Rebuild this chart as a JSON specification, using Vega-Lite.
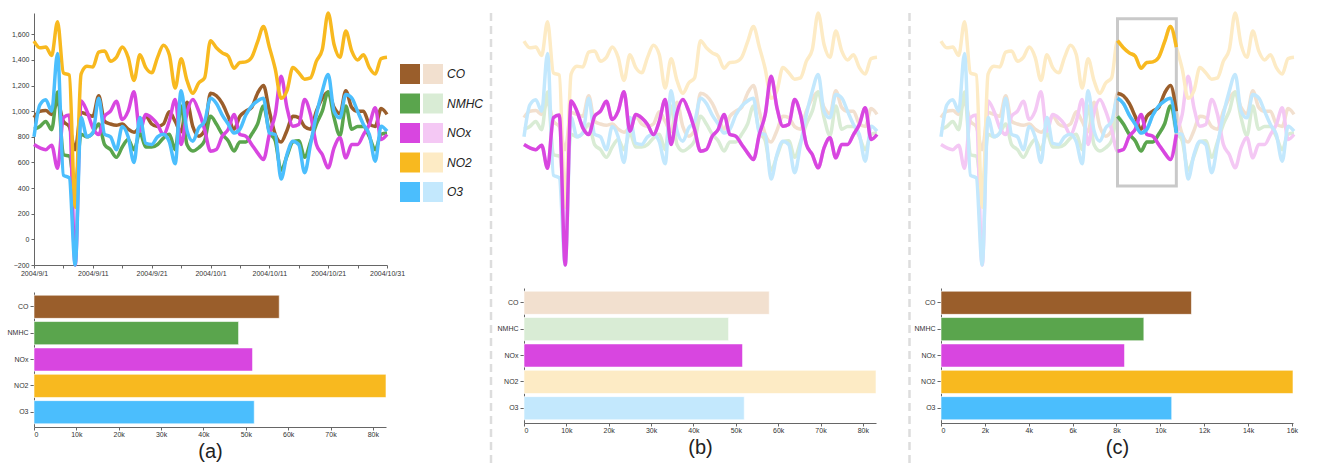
{
  "$schema": "https://vega.github.io/schema/vega-lite/v6.json",
  "padding": {"left": 7, "top": 6, "right": 0, "bottom": 0},
  "spacing": 0,
  "datasets": {
    "ts": [
      {"date":"2004/09/01","CO":950,"NMHC":860,"NOx":740,"NO2":1547,"O3":800},
      {"date":"2004/09/02","CO":1000,"NMHC":880,"NOx":714,"NO2":1495,"O3":1050},
      {"date":"2004/09/03","CO":1005,"NMHC":920,"NOx":700,"NO2":1500,"O3":1090},
      {"date":"2004/09/04","CO":975,"NMHC":855,"NOx":735,"NO2":1435,"O3":1000},
      {"date":"2004/09/05","CO":1070,"NMHC":1150,"NOx":555,"NO2":1697,"O3":1450},
      {"date":"2004/09/06","CO":920,"NMHC":660,"NOx":950,"NO2":1299,"O3":500},
      {"date":"2004/09/07","CO":880,"NMHC":650,"NOx":970,"NO2":1281,"O3":480},
      {"date":"2004/09/08","CO":700,"NMHC":400,"NOx":-200,"NO2":250,"O3":-200},
      {"date":"2004/09/09","CO":990,"NMHC":820,"NOx":1080,"NO2":1290,"O3":950},
      {"date":"2004/09/10","CO":975,"NMHC":800,"NOx":1000,"NO2":1350,"O3":800},
      {"date":"2004/09/11","CO":960,"NMHC":830,"NOx":870,"NO2":1345,"O3":830},
      {"date":"2004/09/12","CO":1120,"NMHC":900,"NOx":818,"NO2":1460,"O3":1100},
      {"date":"2004/09/13","CO":920,"NMHC":740,"NOx":961,"NO2":1470,"O3":820},
      {"date":"2004/09/14","CO":900,"NMHC":700,"NOx":1000,"NO2":1390,"O3":800},
      {"date":"2004/09/15","CO":890,"NMHC":640,"NOx":1078,"NO2":1420,"O3":700},
      {"date":"2004/09/16","CO":900,"NMHC":720,"NOx":935,"NO2":1500,"O3":880},
      {"date":"2004/09/17","CO":860,"NMHC":780,"NOx":1000,"NO2":1420,"O3":800},
      {"date":"2004/09/18","CO":835,"NMHC":700,"NOx":1151,"NO2":1240,"O3":600},
      {"date":"2004/09/19","CO":880,"NMHC":830,"NOx":844,"NO2":1440,"O3":950},
      {"date":"2004/09/20","CO":960,"NMHC":720,"NOx":974,"NO2":1340,"O3":750},
      {"date":"2004/09/21","CO":900,"NMHC":720,"NOx":948,"NO2":1300,"O3":740},
      {"date":"2004/09/22","CO":880,"NMHC":740,"NOx":896,"NO2":1420,"O3":800},
      {"date":"2004/09/23","CO":900,"NMHC":790,"NOx":818,"NO2":1515,"O3":820},
      {"date":"2004/09/24","CO":995,"NMHC":820,"NOx":922,"NO2":1440,"O3":760},
      {"date":"2004/09/25","CO":920,"NMHC":700,"NOx":1091,"NO2":1180,"O3":590},
      {"date":"2004/09/26","CO":840,"NMHC":1040,"NOx":740,"NO2":1410,"O3":1160},
      {"date":"2004/09/27","CO":1070,"NMHC":740,"NOx":987,"NO2":1240,"O3":850},
      {"date":"2004/09/28","CO":880,"NMHC":690,"NOx":1091,"NO2":1140,"O3":766},
      {"date":"2004/09/29","CO":805,"NMHC":715,"NOx":1000,"NO2":1220,"O3":870},
      {"date":"2004/09/30","CO":850,"NMHC":770,"NOx":857,"NO2":1260,"O3":920},
      {"date":"2004/10/01","CO":1140,"NMHC":960,"NOx":688,"NO2":1550,"O3":1100},
      {"date":"2004/10/02","CO":1120,"NMHC":900,"NOx":701,"NO2":1495,"O3":1060},
      {"date":"2004/10/03","CO":1060,"NMHC":820,"NOx":805,"NO2":1455,"O3":970},
      {"date":"2004/10/04","CO":960,"NMHC":770,"NOx":857,"NO2":1430,"O3":900},
      {"date":"2004/10/05","CO":860,"NMHC":690,"NOx":974,"NO2":1335,"O3":830},
      {"date":"2004/10/06","CO":960,"NMHC":760,"NOx":818,"NO2":1380,"O3":860},
      {"date":"2004/10/07","CO":1000,"NMHC":760,"NOx":805,"NO2":1385,"O3":970},
      {"date":"2004/10/08","CO":1030,"NMHC":820,"NOx":740,"NO2":1420,"O3":1040},
      {"date":"2004/10/09","CO":1140,"NMHC":900,"NOx":675,"NO2":1540,"O3":1080},
      {"date":"2004/10/10","CO":1200,"NMHC":1040,"NOx":623,"NO2":1660,"O3":1100},
      {"date":"2004/10/11","CO":1000,"NMHC":840,"NOx":818,"NO2":1500,"O3":830},
      {"date":"2004/10/12","CO":820,"NMHC":770,"NOx":974,"NO2":1330,"O3":818},
      {"date":"2004/10/13","CO":760,"NMHC":540,"NOx":1273,"NO2":1100,"O3":470},
      {"date":"2004/10/14","CO":850,"NMHC":650,"NOx":1026,"NO2":1160,"O3":662},
      {"date":"2004/10/15","CO":960,"NMHC":760,"NOx":883,"NO2":1340,"O3":766},
      {"date":"2004/10/16","CO":950,"NMHC":770,"NOx":896,"NO2":1300,"O3":740},
      {"date":"2004/10/17","CO":880,"NMHC":640,"NOx":1091,"NO2":1250,"O3":520},
      {"date":"2004/10/18","CO":860,"NMHC":760,"NOx":974,"NO2":1260,"O3":740},
      {"date":"2004/10/19","CO":1000,"NMHC":900,"NOx":740,"NO2":1390,"O3":974},
      {"date":"2004/10/20","CO":1100,"NMHC":1000,"NOx":662,"NO2":1480,"O3":1156},
      {"date":"2004/10/21","CO":1150,"NMHC":1150,"NOx":558,"NO2":1766,"O3":1286},
      {"date":"2004/10/22","CO":1030,"NMHC":950,"NOx":714,"NO2":1520,"O3":1000},
      {"date":"2004/10/23","CO":980,"NMHC":810,"NOx":792,"NO2":1420,"O3":948},
      {"date":"2004/10/24","CO":1160,"NMHC":1040,"NOx":636,"NO2":1625,"O3":1130},
      {"date":"2004/10/25","CO":1030,"NMHC":860,"NOx":740,"NO2":1470,"O3":1104},
      {"date":"2004/10/26","CO":1000,"NMHC":880,"NOx":740,"NO2":1400,"O3":1000},
      {"date":"2004/10/27","CO":1000,"NMHC":880,"NOx":818,"NO2":1440,"O3":896},
      {"date":"2004/10/28","CO":900,"NMHC":800,"NOx":896,"NO2":1340,"O3":818},
      {"date":"2004/10/29","CO":880,"NMHC":700,"NOx":1026,"NO2":1290,"O3":610},
      {"date":"2004/10/30","CO":1020,"NMHC":820,"NOx":779,"NO2":1410,"O3":883},
      {"date":"2004/10/31","CO":975,"NMHC":830,"NOx":818,"NO2":1420,"O3":844}
    ],
    "barsAll": [
      {"series":"CO","total":57900},
      {"series":"NMHC","total":48300},
      {"series":"NOx","total":51600},
      {"series":"NO2","total":83100},
      {"series":"O3","total":52000}
    ],
    "barsWin": [
      {"series":"CO","total":11420},
      {"series":"NMHC","total":9250},
      {"series":"NOx","total":8370},
      {"series":"NO2","total":16050},
      {"series":"O3","total":10520}
    ]
  },
  "resolve": {"scale": {"color": "independent", "fill": "independent", "stroke": "independent"}, "legend": {"color": "independent", "fill": "independent", "stroke": "independent"}},
  "hconcat": [
    {
      "spacing": 16,
      "resolve": {"scale": {"color": "independent", "fill": "independent", "stroke": "independent"}, "legend": {"color": "independent", "fill": "independent", "stroke": "independent"}},
      "vconcat": [
        {
          "width": 353,
          "height": 252,
          "layer": [
            {
              "data": {"name": "ts"},
              "transform": [{"fold": ["CO", "NMHC", "NOx", "NO2", "O3"], "as": ["series", "value"]}],
              "mark": {"type": "line", "interpolate": "monotone", "strokeWidth": 3.5},
              "encoding": {
                "x": {"field": "date", "type": "temporal", "scale": {"domain": [{"year": 2004, "month": 9, "date": 1}, {"year": 2004, "month": 10, "date": 31}]},
                  "axis": {"title": null, "values": [{"year":2004,"month":9,"date":1},{"year":2004,"month":9,"date":6},{"year":2004,"month":9,"date":11},{"year":2004,"month":9,"date":16},{"year":2004,"month":9,"date":21},{"year":2004,"month":9,"date":26},{"year":2004,"month":10,"date":1},{"year":2004,"month":10,"date":6},{"year":2004,"month":10,"date":11},{"year":2004,"month":10,"date":16},{"year":2004,"month":10,"date":21},{"year":2004,"month":10,"date":26},{"year":2004,"month":10,"date":31}], "format": "%Y/%-m/%-d", "labelExpr": "date(datum.value) % 10 == 1 ? datum.label : ''", "tickSize": 3, "labelPadding": 1, "labelFlush": false, "labelOverlap": false}},
                "y": {"field": "value", "type": "quantitative", "scale": {"domain": [-200, 1766], "nice": false, "zero": false},
                  "axis": {"title": null, "values": [-200, 0, 200, 400, 600, 800, 1000, 1200, 1400, 1600], "format": ",d", "tickSize": 3, "labelPadding": 2}},
                "stroke": {"field": "series", "type": "nominal", "scale": {"domain": ["CO", "NMHC", "NOx", "NO2", "O3"], "range": ["#9a5e2b", "#5aa54d", "#d846e0", "#f8b91f", "#4bbefd"]}, "legend": null}
              }
            },
            {
              "data": {"values": [{"id": "CO"}, {"id": "NMHC"}, {"id": "NOx"}, {"id": "NO2"}, {"id": "O3"}]},
              "mark": {"type": "point", "filled": true, "opacity": 0, "shape": "square"},
              "encoding": {
                "color": {"field": "id", "type": "nominal", "sort": null, "scale": {"range": ["#9a5e2b", "#5aa54d", "#d846e0", "#f8b91f", "#4bbefd"]},
                  "legend": {"orient": "none", "legendX": 366, "legendY": 51, "title": null, "symbolType": "square", "symbolSize": 400, "symbolOpacity": 1, "symbolStrokeWidth": 0, "labelExpr": "''", "labelFontSize": 12, "rowPadding": 9.5, "padding": 0, "offset": 0}}
              }
            },
            {
              "data": {"values": [{"series": "CO"}, {"series": "NMHC"}, {"series": "NOx"}, {"series": "NO2"}, {"series": "O3"}]},
              "mark": {"type": "point", "filled": true, "opacity": 0, "shape": "square"},
              "encoding": {
                "fill": {"field": "series", "type": "nominal", "sort": null, "scale": {"range": ["#f2e0cf", "#d9ecd5", "#f4c8f4", "#fdebc5", "#c3e8fd"]},
                  "legend": {"orient": "none", "legendX": 389, "legendY": 51, "title": null, "symbolType": "square", "symbolSize": 400, "symbolOpacity": 1, "symbolStrokeWidth": 0, "labelFontSize": 12, "labelFontStyle": "italic", "labelFont": "Liberation Sans", "labelColor": "#222222", "labelOffset": 4, "rowPadding": 9.5, "padding": 0, "offset": 0}}
              }
            }
          ]
        },
        {
          "width": 352,
          "height": 135,
          "data": {"name": "barsAll"},
          "mark": {"type": "bar", "stroke": "#ffffff", "strokeWidth": 1, "strokeOpacity": 0.6},
          "encoding": {
            "y": {"field": "series", "type": "nominal", "sort": ["CO", "NMHC", "NOx", "NO2", "O3"], "scale": {"paddingInner": 0.12, "paddingOuter": 0.12}, "axis": {"title": null, "tickSize": 4, "labelPadding": 2}},
            "x": {"field": "total", "type": "quantitative", "scale": {"nice": false}, "axis": {"title": "(a)", "format": "~s", "labelExpr": "datum.value == 0 ? '0' : datum.label", "tickSize": 3, "labelPadding": 0, "titleFontSize": 20, "titleFontWeight": "normal", "titlePadding": 4, "titleColor": "#222222"}},
            "color": {"field": "series", "type": "nominal", "scale": {"domain": ["CO", "NMHC", "NOx", "NO2", "O3"], "range": ["#9a5e2b", "#5aa54d", "#d846e0", "#f8b91f", "#4bbefd"]}, "legend": null}
          }
        }
      ]
    },
    {
      "width": 14,
      "height": 457,
      "data": {"values": [{}]},
      "mark": {"type": "rule", "strokeDash": [8, 5], "strokeWidth": 2.5, "color": "#dddddd"},
      "encoding": {"x": {"datum": 8, "type": "quantitative", "scale": {"domain": [0, 14]}, "axis": null}}
    },
    {
      "spacing": 16,
      "resolve": {"scale": {"color": "independent", "fill": "independent", "stroke": "independent"}},
      "vconcat": [
        {
          "width": 353,
          "height": 252,
          "layer": [
            {
              "data": {"name": "ts"},
              "transform": [{"fold": ["CO", "NMHC", "NOx", "NO2", "O3"], "as": ["series", "value"]}],
              "mark": {"type": "line", "interpolate": "monotone", "strokeWidth": 3.5},
              "encoding": {
                "x": {"field": "date", "type": "temporal", "scale": {"domain": [{"year": 2004, "month": 9, "date": 1}, {"year": 2004, "month": 10, "date": 31}]},
                  "axis": {"title": null, "values": [{"year":2004,"month":9,"date":1},{"year":2004,"month":9,"date":6},{"year":2004,"month":9,"date":11},{"year":2004,"month":9,"date":16},{"year":2004,"month":9,"date":21},{"year":2004,"month":9,"date":26},{"year":2004,"month":10,"date":1},{"year":2004,"month":10,"date":6},{"year":2004,"month":10,"date":11},{"year":2004,"month":10,"date":16},{"year":2004,"month":10,"date":21},{"year":2004,"month":10,"date":26},{"year":2004,"month":10,"date":31}], "format": "%Y/%-m/%-d", "labelExpr": "date(datum.value) % 10 == 1 ? datum.label : ''", "tickSize": 3, "labelPadding": 1, "labelFlush": false, "labelOverlap": false}},
                "y": {"field": "value", "type": "quantitative", "scale": {"domain": [-200, 1766], "nice": false, "zero": false},
                  "axis": {"title": null, "values": [-200, 0, 200, 400, 600, 800, 1000, 1200, 1400, 1600], "format": ",d", "tickSize": 3, "labelPadding": 2}},
                "stroke": {"field": "series", "type": "nominal", "scale": {"domain": ["CO", "NMHC", "NOx", "NO2", "O3"], "range": ["#f2e0cf", "#d9ecd5", "#f4c8f4", "#fdebc5", "#c3e8fd"]}, "legend": null}
              }
            },
            {
              "data": {"name": "ts"},
              "transform": [{"fold": ["NOx"], "as": ["series", "value"]}],
              "mark": {"type": "line", "interpolate": "monotone", "strokeWidth": 3.5, "color": "#d846e0"},
              "encoding": {
                "x": {"field": "date", "type": "temporal", "axis": null},
                "y": {"field": "value", "type": "quantitative", "axis": null}
              }
            }
          ]
        },
        {
          "width": 352,
          "height": 135,
          "data": {"name": "barsAll"},
          "mark": {"type": "bar", "stroke": "#ffffff", "strokeWidth": 1, "strokeOpacity": 0.6},
          "encoding": {
            "y": {"field": "series", "type": "nominal", "sort": ["CO", "NMHC", "NOx", "NO2", "O3"], "scale": {"paddingInner": 0.12, "paddingOuter": 0.12}, "axis": {"title": null, "tickSize": 4, "labelPadding": 2}},
            "x": {"field": "total", "type": "quantitative", "scale": {"nice": false}, "axis": {"title": "(b)", "format": "~s", "labelExpr": "datum.value == 0 ? '0' : datum.label", "tickSize": 3, "labelPadding": 0, "titleFontSize": 20, "titleFontWeight": "normal", "titlePadding": 4, "titleColor": "#222222"}},
            "color": {"field": "series", "type": "nominal", "scale": {"domain": ["CO", "NMHC", "NOx", "NO2", "O3"], "range": ["#f2e0cf", "#d9ecd5", "#d846e0", "#fdebc5", "#c3e8fd"]}, "legend": null}
          }
        }
      ]
    },
    {
      "width": 30,
      "height": 457,
      "data": {"values": [{}]},
      "mark": {"type": "rule", "strokeDash": [8, 5], "strokeWidth": 2.5, "color": "#dddddd"},
      "encoding": {"x": {"datum": 25.5, "type": "quantitative", "scale": {"domain": [0, 30]}, "axis": null}}
    },
    {
      "spacing": 16,
      "resolve": {"scale": {"color": "independent", "fill": "independent", "stroke": "independent"}},
      "vconcat": [
        {
          "width": 353,
          "height": 252,
          "layer": [
            {
              "data": {"name": "ts"},
              "transform": [{"fold": ["CO", "NMHC", "NOx", "NO2", "O3"], "as": ["series", "value"]}],
              "mark": {"type": "line", "interpolate": "monotone", "strokeWidth": 3.5},
              "encoding": {
                "x": {"field": "date", "type": "temporal", "scale": {"domain": [{"year": 2004, "month": 9, "date": 1}, {"year": 2004, "month": 10, "date": 31}]},
                  "axis": {"title": null, "values": [{"year":2004,"month":9,"date":1},{"year":2004,"month":9,"date":6},{"year":2004,"month":9,"date":11},{"year":2004,"month":9,"date":16},{"year":2004,"month":9,"date":21},{"year":2004,"month":9,"date":26},{"year":2004,"month":10,"date":1},{"year":2004,"month":10,"date":6},{"year":2004,"month":10,"date":11},{"year":2004,"month":10,"date":16},{"year":2004,"month":10,"date":21},{"year":2004,"month":10,"date":26},{"year":2004,"month":10,"date":31}], "format": "%Y/%-m/%-d", "labelExpr": "date(datum.value) % 10 == 1 ? datum.label : ''", "tickSize": 3, "labelPadding": 1, "labelFlush": false, "labelOverlap": false}},
                "y": {"field": "value", "type": "quantitative", "scale": {"domain": [-200, 1766], "nice": false, "zero": false},
                  "axis": {"title": null, "values": [-200, 0, 200, 400, 600, 800, 1000, 1200, 1400, 1600], "format": ",d", "tickSize": 3, "labelPadding": 2}},
                "stroke": {"field": "series", "type": "nominal", "scale": {"domain": ["CO", "NMHC", "NOx", "NO2", "O3"], "range": ["#f2e0cf", "#d9ecd5", "#f4c8f4", "#fdebc5", "#c3e8fd"]}, "legend": null}
              }
            },
            {
              "data": {"values": [{"start": "2004/10/01", "end": "2004/10/11", "low": 416, "high": 1722}]},
              "mark": {"type": "rect", "filled": false, "stroke": "#c9c9c9", "strokeWidth": 3},
              "encoding": {
                "x": {"field": "start", "type": "temporal", "axis": null},
                "x2": {"field": "end"},
                "y": {"field": "low", "type": "quantitative", "axis": null},
                "y2": {"field": "high"}
              }
            },
            {
              "data": {"name": "ts"},
              "transform": [
                {"filter": {"field": "date", "range": [{"year": 2004, "month": 10, "date": 1}, {"year": 2004, "month": 10, "date": 11}]}},
                {"fold": ["CO", "NMHC", "NOx", "NO2", "O3"], "as": ["series", "value"]}
              ],
              "mark": {"type": "line", "interpolate": "monotone", "strokeWidth": 3.5},
              "encoding": {
                "x": {"field": "date", "type": "temporal", "axis": null},
                "y": {"field": "value", "type": "quantitative", "axis": null},
                "color": {"field": "series", "type": "nominal", "scale": {"domain": ["CO", "NMHC", "NOx", "NO2", "O3"], "range": ["#9a5e2b", "#5aa54d", "#d846e0", "#f8b91f", "#4bbefd"]}, "legend": null}
              }
            }
          ]
        },
        {
          "width": 352,
          "height": 135,
          "data": {"name": "barsWin"},
          "mark": {"type": "bar", "stroke": "#ffffff", "strokeWidth": 1, "strokeOpacity": 0.6},
          "encoding": {
            "y": {"field": "series", "type": "nominal", "sort": ["CO", "NMHC", "NOx", "NO2", "O3"], "scale": {"paddingInner": 0.12, "paddingOuter": 0.12}, "axis": {"title": null, "tickSize": 4, "labelPadding": 2}},
            "x": {"field": "total", "type": "quantitative", "scale": {"nice": false}, "axis": {"title": "(c)", "format": "~s", "labelExpr": "datum.value == 0 ? '0' : datum.label", "tickSize": 3, "labelPadding": 0, "titleFontSize": 20, "titleFontWeight": "normal", "titlePadding": 4, "titleColor": "#222222"}},
            "color": {"field": "series", "type": "nominal", "scale": {"domain": ["CO", "NMHC", "NOx", "NO2", "O3"], "range": ["#9a5e2b", "#5aa54d", "#d846e0", "#f8b91f", "#4bbefd"]}, "legend": null}
          }
        }
      ]
    }
  ],
  "config": {
    "view": {"stroke": null},
    "font": "Liberation Sans",
    "axis": {"labelFont": "Liberation Sans", "labelFontSize": 7, "labelColor": "#333333", "domainColor": "#666666", "tickColor": "#666666", "titleFont": "Liberation Sans", "grid": false}
  }
}
